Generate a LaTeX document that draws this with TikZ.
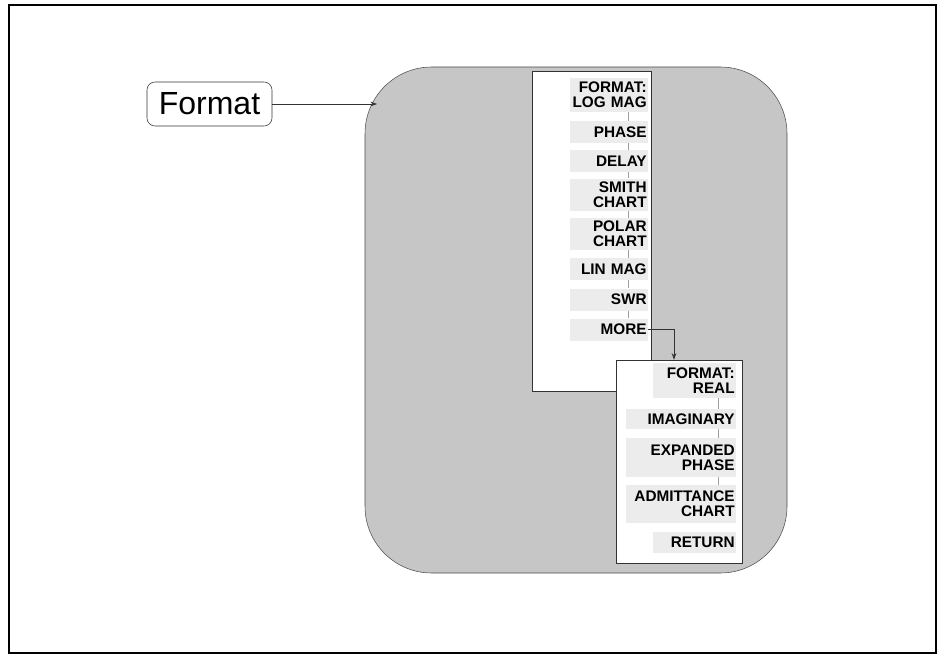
\documentclass[tikz,border=0pt]{standalone}
\usepackage{fontspec}
\setmainfont{Liberation Sans}
\usetikzlibrary{arrows.meta}

\begin{document}
\begin{tikzpicture}[x=0.75pt,y=-0.75pt,
        panel/.style={draw=black!70,fill=gray!45,rounded corners=50pt,inner sep=0pt},
        menu/.style={draw=black!80,fill=white,inner sep=0pt},
        key/.style={fill=gray!15,inner xsep=1pt,inner ysep=0pt,align=right,
            font=\bfseries\fontsize{11.5}{11.5}\selectfont},
        keyA/.style={key,text width=56.5pt},
        keyB/.style={key,text width=80.5pt},
        keyC/.style={key,text width=60.25pt},
        link/.style={draw=gray!75,line width=0.4pt},
        arr/.style={draw=black!80,line width=0.5pt,-{Stealth[length=5pt,width=3.5pt]}}]
        \useasboundingbox(0,0)rectangle(937,656);
        \draw[line width=1.5pt](9,5)rectangle(936,653);

        % hardkey and the softkey panel
        \node[draw=black!80,rounded corners=6pt,minimum width=93.75pt,minimum height=33pt,
            inner sep=0pt,font=\fontsize{24}{26}\selectfont](format)at(209.5,104){Format};
        \node[panel,minimum width=316.5pt,minimum height=379.5pt](pnl)at(576,320){};
        \coordinate(entry)at(377,104);
        \draw[arr](format.east)--(entry);

        % first menu
        \node[menu,minimum width=89.25pt,minimum height=240pt](box1)at(591.5,231){};
        \node[keyA,minimum height=25.5pt](logmag)at(609,95){FORMAT:\\LOG MAG};
        \node[keyA,minimum height=16.5pt](phase)at(609,132){PHASE};
        \node[keyA,minimum height=16.5pt](delay)at(609,161){DELAY};
        \node[keyA,minimum height=24pt](smith)at(609,194.5){SMITH\\CHART};
        \node[keyA,minimum height=24pt](polar)at(609,234){POLAR\\CHART};
        \node[keyA,minimum height=16.5pt](linmag)at(609,269){LIN MAG};
        \node[keyA,minimum height=16.5pt](swr)at(609,299.5){SWR};
        \node[keyA,minimum height=16.5pt](more)at(609,329.5){MORE};

        % second menu
        \node[menu,minimum width=94.5pt,minimum height=152.25pt](box2)at(679,461.5){};
        \node[keyC,minimum height=26.25pt](real)at(694.5,380.5){FORMAT:\\REAL};
        \node[keyB,minimum height=15pt](imag)at(681,419){IMAGINARY};
        \node[keyB,minimum height=29.25pt](expand)at(681,457.5){EXPANDED\\PHASE};
        \node[keyB,minimum height=28.5pt](admit)at(681,504){ADMITTANCE\\CHART};
        \node[keyC,minimum height=15.75pt](return)at(694.5,542.5){RETURN};

        % connectors
        \coordinate(spine1)at(628,0);
        \coordinate(spine2)at(718,0);
        \coordinate(turn)at(674,0);
        \foreach \a/\b in {logmag/phase,phase/delay,delay/smith,smith/polar,polar/linmag,linmag/swr,swr/more}
            \draw[link](\a.south -| spine1)--(\b.north -| spine1);
        \foreach \a/\b in {real/imag,imag/expand,expand/admit}
            \draw[link](\a.south -| spine2)--(\b.north -| spine2);
        \draw[arr](more.east)-|(box2.north -| turn);
    \end{tikzpicture}
\end{document}
